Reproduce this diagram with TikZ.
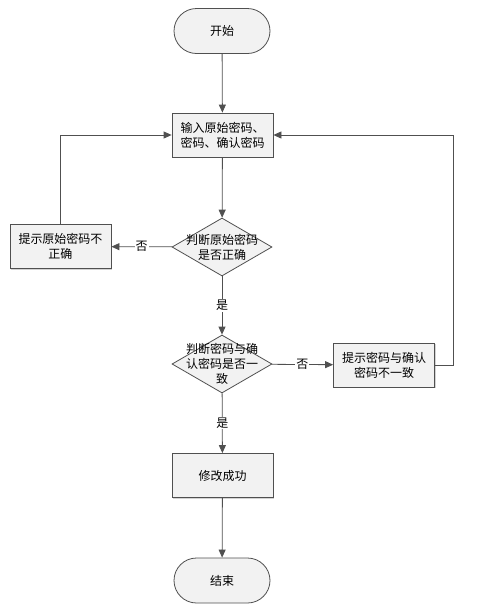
\documentclass[tikz,border=0pt]{standalone}
\usepackage{fontspec}
\setmainfont{Noto Sans CJK SC}
\usetikzlibrary{arrows.meta,shapes.geometric,shapes.misc,shadows}
\definecolor{edge}{HTML}{505050}
\definecolor{boxfill}{HTML}{F2F2F2}
\begin{document}
\begin{tikzpicture}[x=1pt,y=-1pt,
  every node/.style={font=\fontsize{12}{15}\selectfont,align=center},
  base/.style={draw=edge,line width=0.8pt,fill=boxfill,align=center,inner sep=2pt},
  term/.style={base,rounded rectangle,minimum width=100pt,minimum height=45pt},
  proc/.style={base,rectangle,minimum width=101pt,minimum height=44pt,drop shadow={shadow xshift=1pt,shadow yshift=-1pt,opacity=0.35}},
  dec/.style={base,diamond,minimum width=100pt,minimum height=58pt,aspect=1.72,inner sep=0pt},
  arr/.style={draw=edge,line width=0.8pt,-{Triangle[length=8pt,width=7pt]}},
  lbl/.style={fill=white,inner sep=1pt}]
\useasboundingbox (0,0) rectangle (477,611);
\node[term] (start) at (222,31) {开始};
\node[proc] (input) at (222.5,135) {输入原始密码、\\密码、确认密码};
\node[dec] (d1) at (222,247) {};
\node (t1) at (222,247) {判断原始密码\\是否正确};
\node[proc] (err1) at (60.5,246.5) {提示原始密码不\\正确};
\node[dec] (d2) at (222,364) {};
\node (t2) at (222,364) {判断密码与确\\认密码是否一\\致};
\node[proc] (err2) at (384,365) {提示密码与确认\\密码不一致};
\node[proc] (ok) at (222.5,475.5) {修改成功};
\node[term] (end) at (222,580.5) {结束};
\coordinate (c1) at (60.5,135);
\coordinate (c2) at (453,365);
\coordinate (c3) at (453,135);
\draw[arr] (start) -- (input);
\draw[arr] (input) -- (d1);
\draw[arr] (d1) -- node[lbl] {否} (err1);
\draw[arr] (err1.north) -- (c1) -- (input.west);
\draw[arr] (d1) -- node[lbl,pos=0.5] {是} (d2);
\draw[arr] (d2) -- node[lbl] {否} (err2);
\draw[arr] (err2.east) -- (c2) -- (c3) -- (input.east);
\draw[arr] (d2) -- node[lbl] {是} (ok);
\draw[arr] (ok) -- (end);
\end{tikzpicture}
\end{document}
